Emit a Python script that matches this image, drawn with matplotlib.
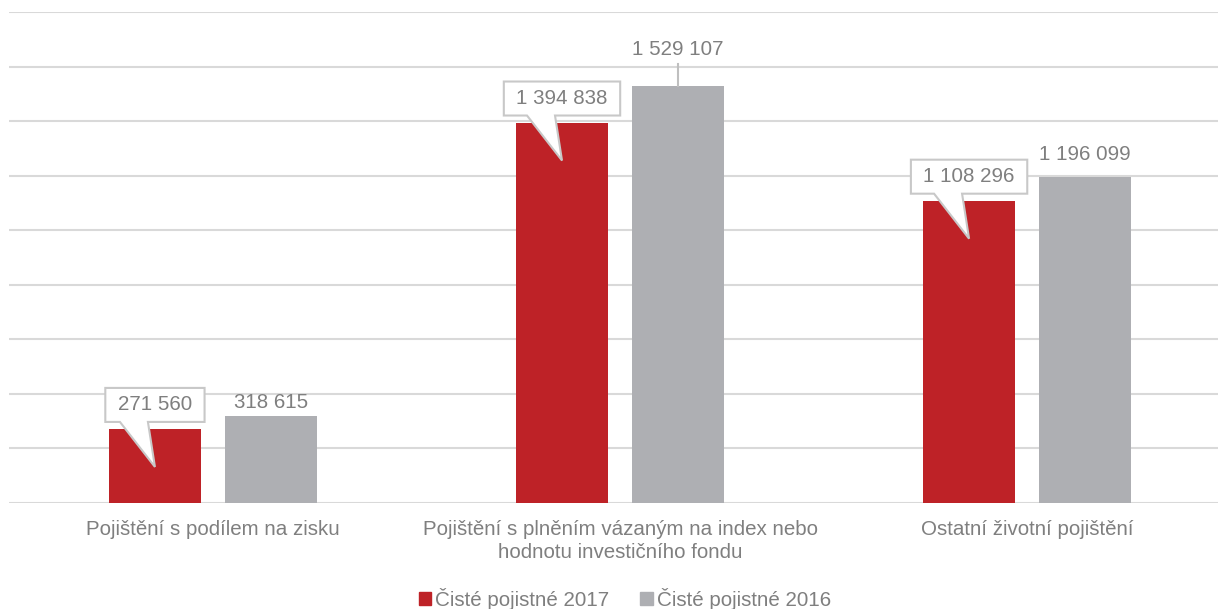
import matplotlib
matplotlib.use("Agg")
import matplotlib.pyplot as plt
from matplotlib.patches import Patch, Polygon
import numpy as np

categories = ["Pojištění s podílem na zisku",
              "Pojištění s plněním vázaným na index nebo\nhodnotu investičního fondu",
              "Ostatní životní pojištění"]
values_2017 = [271560, 1394838, 1108296]
values_2016 = [318615, 1529107, 1196099]
labels_2017 = ["271 560", "1 394 838", "1 108 296"]
labels_2016 = ["318 615", "1 529 107", "1 196 099"]
series_names = ["Čisté pojistné 2017", "Čisté pojistné 2016"]

RED = "#BE2227"
GRAY = "#AEAFB3"
TXT = "#7F7F7F"
GRID = "#D9D9D9"
FS = 14.8

plt.rcParams['font.family'] = ['Liberation Sans', 'DejaVu Sans']

DPI = 100
fig = plt.figure(figsize=(12.18, 6.09), dpi=DPI)
ax = fig.add_axes([9/1218, 1-503/609, 1209/1218, 491/609])

x = np.arange(len(categories))
w = 0.226
off = 0.1425
ax.bar(x - off, values_2017, w, color=RED, zorder=2)
ax.bar(x + off, values_2016, w, color=GRAY, zorder=2)

ax.set_xlim(-0.501, 2.469)
ax.set_ylim(0, 1800000)
ax.set_yticks(np.arange(0, 1800001, 200000))
ax.yaxis.grid(True, color=GRID, lw=1.5, zorder=0)
ax.tick_params(axis='y', length=0, labelleft=False)
ax.tick_params(axis='x', length=0, pad=12.5, labelsize=FS, labelcolor=TXT)
ax.set_xticks(x)
ax.set_xticklabels(categories, linespacing=1.22)
for s in ax.spines.values():
    s.set_visible(False)

fig.canvas.draw()
renderer = fig.canvas.get_renderer()

# callouts for 2017
for xi, v, lab in zip(x, values_2017, labels_2017):
    cx, ay = ax.transData.transform((xi - off, v))
    t = fig.text(0, 0, lab, fontsize=FS, color=TXT, ha='center', va='center',
                 transform=None, zorder=6)
    tw = t.get_window_extent(renderer).width
    bw = tw + 25
    L, R = cx - bw / 2, cx + bw / 2
    bot, top = ay + 7, ay + 41
    verts = [(L, top), (R, top), (R, bot), (cx - 7, bot), (cx, ay - 38),
             (cx - 35, bot), (L, bot)]
    poly = Polygon(verts, closed=True, facecolor='white', edgecolor='#C8C8C8',
                   lw=1.5, transform=None, zorder=5)
    fig.add_artist(poly)
    t.set_position((cx, (bot + top) / 2))

# labels for 2016
offsets = [14, 36, 22]
for xi, v, lab, o in zip(x, values_2016, labels_2016, offsets):
    cx, ay = ax.transData.transform((xi + off, v))
    fig.text(cx, ay + o, lab, fontsize=FS, color=TXT, ha='center', va='center',
             transform=None, zorder=6)
    if o > 25:
        fig.add_artist(plt.Line2D([cx, cx], [ay, ay + o - 14], color='#BFBFBF',
                                  lw=1.5, transform=None))

handles = [Patch(color=RED), Patch(color=GRAY)]
fig.legend(handles, series_names, loc='center', bbox_to_anchor=(625/1218, 1-599/609),
           ncol=2, frameon=False, fontsize=FS, labelcolor=TXT,
           handlelength=0.6, handleheight=0.6, handletextpad=0.2,
           columnspacing=1.5)

fig.savefig("out.png", dpi=DPI)
